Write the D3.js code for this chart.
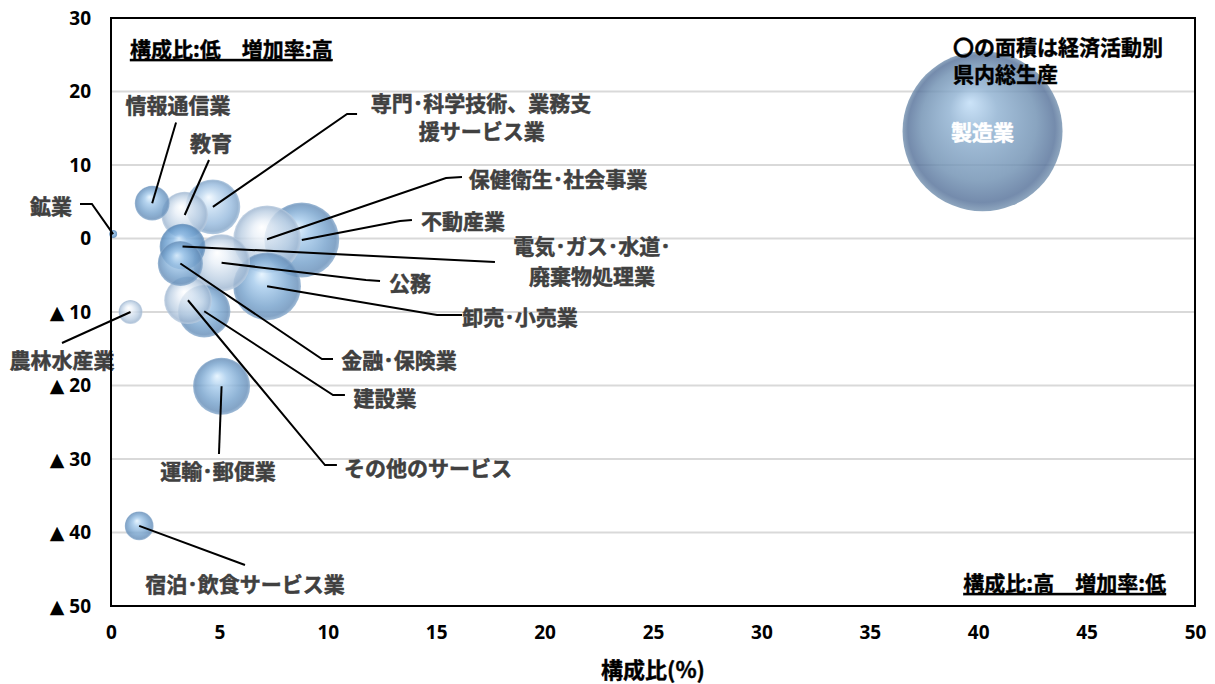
<!DOCTYPE html>
<html>
<head>
<meta charset="utf-8">
<script src="https://cdn.jsdelivr.net/npm/d3@7"></script>
<style>
  body { margin: 0; background: #fff; }
  text { font-family: "Noto Sans CJK JP", sans-serif; }
</style>
</head>
<body>
<svg id="chart" width="1215" height="684"></svg>
<script>
// 経済活動別 構成比(%) と 増加率(%)
const industries = ["製造業", "不動産業", "保健衛生・社会事業", "卸売・小売業", "公務", "運輸・郵便業",
  "専門・科学技術、業務支援サービス業", "建設業", "その他のサービス", "教育", "電気・ガス・水道・廃棄物処理業",
  "金融・保険業", "情報通信業", "宿泊・飲食サービス業", "農林水産業", "鉱業"];
const shares = [40.2, 8.8, 7.2, 7.2, 5.1, 5.1, 4.7, 4.3, 3.55, 3.4, 3.3, 3.2, 1.9, 1.3, 0.9, 0.1];
const growth = [14.6, -0.2, -0.1, -6.5, -3.3, -20.1, 4.3, -9.9, -8.4, 3.2, -1.1, -3.4, 4.8, -39.1, -10.0, 0.6];
const xTicks = [0, 5, 10, 15, 20, 25, 30, 35, 40, 45, 50];
const yTicks = [30, 20, 10, 0, -10, -20, -30, -40, -50];

// bubble colouring
const tone = {
  "製造業": "steel", "不動産業": "blue", "保健衛生・社会事業": "light", "卸売・小売業": "blue",
  "公務": "light", "運輸・郵便業": "blue", "専門・科学技術、業務支援サービス業": "mid", "建設業": "blue",
  "その他のサービス": "light", "教育": "light", "電気・ガス・水道・廃棄物処理業": "deep",
  "金融・保険業": "blue", "情報通信業": "blue", "宿泊・飲食サービス業": "blue", "農林水産業": "light", "鉱業": "deep"
};

// label layout in data units: text lines, text anchor, leader line points
const labels = {
  "鉱業": { lines: ["鉱業"], t: [-2.77, 4.6], pts: [[-1.43, 4.69], [-0.88, 4.69]] },
  "情報通信業": { lines: ["情報通信業"], t: [3.09, 18.3], pts: [[3.0, 15.78]] },
  "教育": { lines: ["教育"], t: [4.61, 13.13], pts: [[4.52, 10.68]] },
  "専門・科学技術、業務支援サービス業": { lines: ["専門･科学技術、業務支", "援サービス業"], t: [17.07, 18.6], t2: [17.1, 14.8], pts: [[11.35, 16.94], [10.89, 16.94]] },
  "保健衛生・社会事業": { lines: ["保健衛生･社会事業"], t: [20.62, 8.23], pts: [[16.19, 8.37], [15.45, 8.23]] },
  "不動産業": { lines: ["不動産業"], t: [16.24, 2.52], pts: [[13.88, 2.52], [13.33, 2.38]] },
  "電気・ガス・水道・廃棄物処理業": { lines: ["電気･ガス･水道･", "廃棄物処理業"], t: [22.19, -0.9], t2: [22.19, -4.9], pts: [[17.71, -3.2]] },
  "公務": { lines: ["公務"], t: [13.79, -5.92], pts: [[12.41, -5.78], [11.76, -5.65]] },
  "卸売・小売業": { lines: ["卸売･小売業"], t: [18.87, -10.54], pts: [[16.19, -10.41], [15.04, -10.41]] },
  "金融・保険業": { lines: ["金融･保険業"], t: [13.28, -16.39], pts: [[10.24, -16.39], [9.73, -16.39]] },
  "建設業": { lines: ["建設業"], t: [12.64, -21.56], pts: [[10.79, -21.29], [10.24, -21.29]] },
  "その他のサービス": { lines: ["その他のサービス"], t: [14.62, -31.09], pts: [[10.42, -30.82], [9.87, -30.82]] },
  "運輸・郵便業": { lines: ["運輸･郵便業"], t: [4.94, -31.5], pts: [[4.98, -29.32]] },
  "農林水産業": { lines: ["農林水産業"], t: [-2.26, -16.39], pts: [[-2.26, -14.22]] },
  "宿泊・飲食サービス業": { lines: ["宿泊･飲食サービス業"], t: [6.18, -46.87], pts: [[6.18, -44.42]] }
};

const data = industries.map((name, i) => ({ name, share: shares[i], growth: growth[i] }));

const svg = d3.select("#chart");
const margin = { top: 18, right: 20, bottom: 78, left: 111 };
const width = 1215 - margin.left - margin.right;
const height = 684 - margin.top - margin.bottom;

const x = d3.scaleLinear().domain([0, 50]).range([0, width]);
const y = d3.scaleLinear().domain([-50, 30]).range([height, 0]);
const r = d3.scaleSqrt().domain([0, d3.max(shares)]).range([0, 80]);

// gradients
const defs = svg.append("defs");
const palettes = {
  blue: ["#e3f3ff", "#a6cbec", "#76a2cc", "#6890ba", "#8aacce"],
  deep: ["#cfe9ff", "#8cbae5", "#6499cb", "#5686b6", "#7ea3c8"],
  mid: ["#f2f9ff", "#c6ddf2", "#98bbde", "#82a5c9", "#a4bfda"],
  light: ["#ffffff", "#e9f0f8", "#bccfe3", "#a1b8d2", "#bccde0"],
  steel: ["#c0ddf7", "#8fb1d1", "#6f90b2", "#56729a", "#7592b0"]
};
Object.entries(palettes).forEach(([key, c]) => {
  const g = defs.append("radialGradient")
    .attr("id", "g-" + key)
    .attr("cx", "50%").attr("cy", "50%").attr("r", "50%")
    .attr("fx", "42%").attr("fy", "32%");
  [[0, c[0]], [0.3, c[1]], [0.72, c[2]], [0.92, c[3]], [1, c[4]]].forEach(s =>
    g.append("stop").attr("offset", s[0]).attr("stop-color", s[1]));
});

const graph = svg.append("g").attr("transform", `translate(${margin.left},${margin.top})`);

// gridlines
graph.append("g")
  .selectAll("line")
  .data(yTicks.filter(t => t > -50 && t < 30))
  .enter()
  .append("line")
  .attr("x1", 0).attr("x2", width)
  .attr("y1", d => y(d)).attr("y2", d => y(d))
  .attr("stroke", "#d9d9d9")
  .attr("stroke-width", 2);

// axes
const xAxis = d3.axisBottom(x).tickValues(xTicks).tickSize(0).tickPadding(20);
const yAxis = d3.axisLeft(y).tickValues(yTicks).tickSize(0).tickPadding(20)
  .tickFormat(d => d < 0 ? "▲ " + (-d) : d);

const xAxisGroup = graph.append("g").attr("transform", `translate(0,${height})`).call(xAxis);
const yAxisGroup = graph.append("g").call(yAxis);
[xAxisGroup, yAxisGroup].forEach(g => {
  g.select(".domain").remove();
  g.selectAll("text")
    .attr("fill", "#000")
    .attr("font-size", "19")
    .attr("font-weight", "bold")
    .style("font-family", "'Open Sans', 'DejaVu Sans', sans-serif");
});

// bubbles, largest first
const sorted = data.slice().sort((a, b) => b.share - a.share);
graph.append("g")
  .selectAll("circle")
  .data(sorted)
  .enter()
  .append("circle")
  .attr("cx", d => x(d.share))
  .attr("cy", d => y(d.growth))
  .attr("r", d => r(d.share))
  .attr("fill", d => `url(#g-${tone[d.name]})`)
  .attr("fill-opacity", 0.82);

// leader lines
const line = d3.line();
graph.append("g")
  .selectAll("path")
  .data(data.filter(d => labels[d.name]))
  .enter()
  .append("path")
  .attr("d", d => {
    const pts = [[x(d.share), y(d.growth)]];
    labels[d.name].pts.slice().reverse().forEach(p => pts.push([x(p[0]), y(p[1])]));
    return line(pts);
  })
  .attr("fill", "none")
  .attr("stroke", "#000")
  .attr("stroke-width", 2);

// data labels
const labelGroup = graph.append("g");
data.filter(d => labels[d.name]).forEach(d => {
  const L = labels[d.name];
  const spots = [L.t, L.t2];
  L.lines.forEach((txt, i) => {
    labelGroup.append("text")
      .attr("x", x(spots[i][0]))
      .attr("y", y(spots[i][1]))
      .attr("text-anchor", "middle")
      .attr("dominant-baseline", "central")
      .attr("fill", "#404040")
      .attr("stroke", "#404040")
      .attr("stroke-width", 0.5)
      .attr("font-size", "21")
      .attr("font-weight", "bold")
      .text(txt);
  });
});

// label inside the manufacturing bubble
const mfg = data.find(d => d.name === "製造業");
graph.append("text")
  .attr("x", x(mfg.share))
  .attr("y", y(mfg.growth))
  .attr("text-anchor", "middle")
  .attr("dominant-baseline", "central")
  .attr("fill", "#fff")
  .attr("stroke", "#fff")
  .attr("stroke-width", 0.5)
  .attr("font-size", "21")
  .attr("font-weight", "bold")
  .text("製造業");

// plot border
graph.append("rect")
  .attr("width", width)
  .attr("height", height)
  .attr("fill", "none")
  .attr("stroke", "#000")
  .attr("stroke-width", 2);

// corner notes
const noteStyle = t => t
  .attr("font-size", "21").attr("font-weight", "bold")
  .attr("stroke", "#000").attr("stroke-width", 0.4);
noteStyle(graph.append("text"))
  .attr("x", 19).attr("y", 30)
  .attr("dominant-baseline", "central")
  .style("text-decoration", "underline")
  .text("構成比:低\u3000増加率:高");
noteStyle(graph.append("text"))
  .attr("x", width - 29).attr("y", height - 24)
  .attr("text-anchor", "end")
  .attr("dominant-baseline", "central")
  .style("text-decoration", "underline")
  .text("構成比:高\u3000増加率:低");
const note = noteStyle(graph.append("text"));
note.append("tspan").attr("x", 842).attr("y", 37).text("〇の面積は経済活動別");
note.append("tspan").attr("x", 842).attr("y", 64).text("県内総生産");

// axis title
svg.append("text")
  .attr("x", margin.left + width / 2)
  .attr("y", 668)
  .attr("text-anchor", "middle")
  .attr("dominant-baseline", "central")
  .attr("font-size", "22")
  .attr("font-weight", "bold")
  .attr("stroke", "#000")
  .attr("stroke-width", 0.4)
  .text("構成比(%)");
</script>
</body>
</html>
